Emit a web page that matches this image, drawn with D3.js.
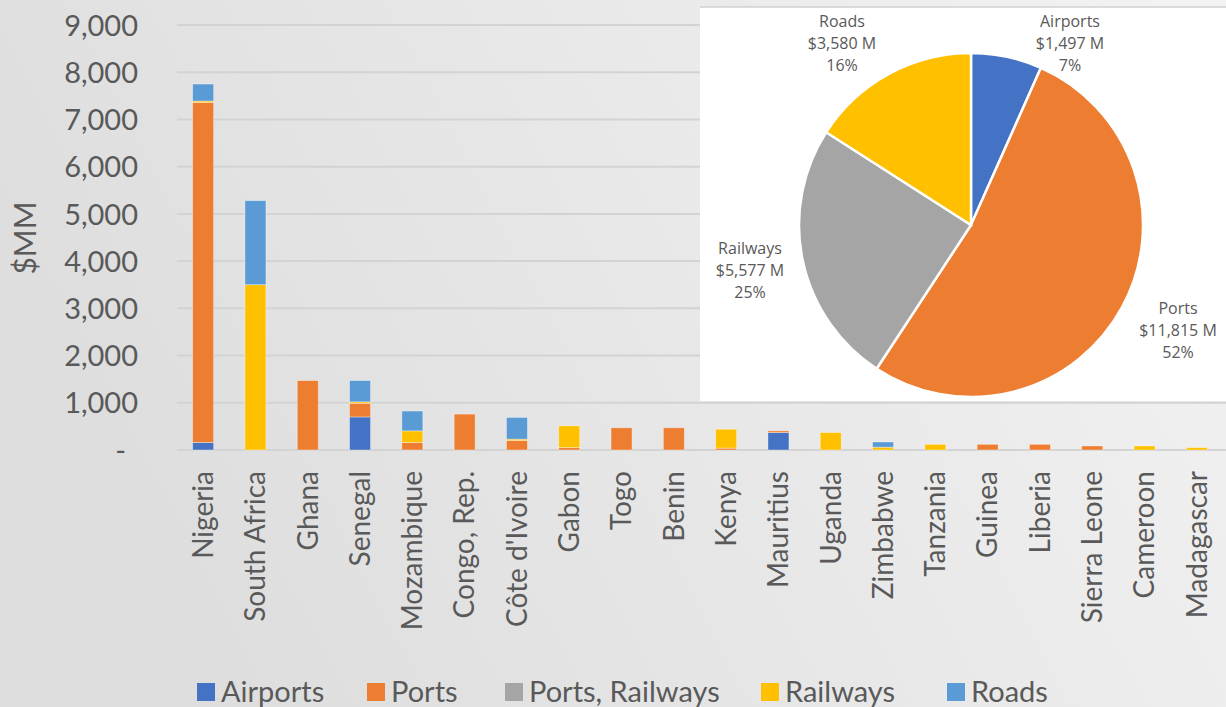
<!DOCTYPE html>
<html>
<head>
<meta charset="utf-8">
<script src="https://cdn.jsdelivr.net/npm/d3@7"></script>
<style>
  html, body { margin: 0; padding: 0; overflow: hidden; }
  svg { display: block; }
</style>
</head>
<body>
<svg id="chart" width="1226" height="707"></svg>
<script>
// ---------- DATA ----------
const countries = ["Nigeria","South Africa","Ghana","Senegal","Mozambique","Congo, Rep.","Côte d'Ivoire","Gabon","Togo","Benin","Kenya","Mauritius","Uganda","Zimbabwe","Tanzania","Guinea","Liberia","Sierra Leone","Cameroon","Madagascar"];
const seriesNames = ["Airports","Ports","Ports, Railways","Railways","Roads"];
const airports       = [160,   0,    0, 700,   0,   0,   0,   0,   0,   0,   0, 370,   0,   0,   0,   0,   0,  0,  0,  0];
const ports          = [7200,  0, 1470, 290, 160, 760, 200,  50, 470, 470,  40,  35,   0,   0,   0, 120, 120, 85,  0,  0];
const portsRailways  = [0,     0,    0,   0,   0,   0,   0,   0,   0,   0,   0,   0,   0,   0,   0,   0,   0,  0,  0,  0];
const railways       = [30, 3500,    0,  30, 245,   0,  30, 460,   0,   0, 400,   0, 370,  60, 120,   0,   0,  0, 85, 50];
const roads          = [360, 1780,   0, 450, 420,   0, 460,   0,   0,   0,   0,   0,   0, 110,   0,   0,   0,  0,  0,  0];
const yTicks = [0,1000,2000,3000,4000,5000,6000,7000,8000,9000];
const yTitle = "$MM";

const pieLabels = ["Airports","Ports","Railways","Roads"];
const pieValues = [1497, 11815, 5577, 3580];
const pieValueText = ["$1,497 M","$11,815 M","$5,577 M","$3,580 M"];
const piePercentText = ["7%","52%","25%","16%"];

// ---------- STYLE ----------
const seriesColors = ["#4472C4","#ED7D31","#A5A5A5","#FFC000","#5B9BD5"];
const pieColors = ["#4472C4","#ED7D31","#A5A5A5","#FFC000"];
const textColor = "#595959";
const mainFont = "Lato, 'Open Sans', sans-serif";

const svg = d3.select("#chart");
const W = 1226, H = 707;

// background gradient
const defs = svg.append("defs");
const grad = defs.append("linearGradient").attr("id","bg")
  .attr("x1","0%").attr("y1","30%").attr("x2","100%").attr("y2","0%");
grad.append("stop").attr("offset","0%").attr("stop-color","#dedede");
grad.append("stop").attr("offset","100%").attr("stop-color","#f3f3f3");
svg.append("rect").attr("width",W).attr("height",H).attr("fill","url(#bg)");

// ---------- BAR CHART ----------
const x = d3.scaleBand().domain(countries).range([177, 1223]).paddingInner(0.6).paddingOuter(0.3);
const y = d3.scaleLinear().domain([0, 9000]).range([450, 25]);

// gridlines
svg.append("g").selectAll("line").data(yTicks).join("line")
  .attr("x1", 177).attr("x2", W)
  .attr("y1", d => y(d)).attr("y2", d => y(d))
  .attr("stroke", "#d3d3d3").attr("stroke-width", 2);

// y axis tick labels
const yAxis = d3.axisLeft(y).tickValues(yTicks).tickSize(0).tickPadding(0)
  .tickFormat(d => d === 0 ? "-" : d3.format(",")(d));
const yg = svg.append("g").attr("transform","translate(138,0)").call(yAxis);
yg.select(".domain").remove();
yg.selectAll("text").attr("font-family", mainFont).attr("font-size", 29)
  .attr("fill", textColor).attr("dy","0.35em");
yg.selectAll(".tick").filter(d => d === 0).select("text").attr("dx", -12);

// y title
svg.append("text").attr("transform","translate(36,238) rotate(-90)")
  .attr("text-anchor","middle").attr("font-family", mainFont).attr("font-size", 30)
  .attr("fill", textColor).text(yTitle);

// stacked data
const rows = countries.map((c,i) => ({
  country: c,
  "Airports": airports[i],
  "Ports": ports[i],
  "Ports, Railways": portsRailways[i],
  "Railways": railways[i],
  "Roads": roads[i]
}));
const stacked = d3.stack().keys(seriesNames)(rows);

const barW = 21;
svg.append("g").selectAll("g").data(stacked).join("g")
  .attr("fill", (d,i) => seriesColors[i])
  .selectAll("rect").data(d => d.filter(p => p[1] - p[0] > 0)).join("rect")
  .attr("x", d => x(d.data.country) + x.bandwidth()/2 - barW/2)
  .attr("width", barW)
  .attr("y", d => y(d[1]))
  .attr("height", d => y(d[0]) - y(d[1]))
  .attr("stroke", "rgba(255,255,255,0.45)").attr("stroke-width", 0.8);

// x axis labels
const xAxis = d3.axisBottom(x).tickSize(0).tickPadding(0);
const xg = svg.append("g").attr("transform","translate(0,471)").call(xAxis);
xg.select(".domain").remove();
xg.selectAll("text")
  .attr("font-family", mainFont).attr("font-size", 28).attr("fill", textColor)
  .attr("text-anchor","end").attr("transform","rotate(-90)")
  .attr("x", 0).attr("y", 0).attr("dy","0.35em");

// legend
const legendX = [197, 367, 505, 761, 947];
const lg = svg.append("g");
seriesNames.forEach((s,i) => {
  lg.append("rect").attr("x", legendX[i]).attr("y", 683).attr("width", 18).attr("height", 18)
    .attr("fill", seriesColors[i]);
  lg.append("text").attr("x", legendX[i] + 24).attr("y", 692).attr("dy","0.35em")
    .attr("font-family", mainFont).attr("font-size", 29).attr("fill", textColor).text(s);
});

// ---------- PIE INSET ----------
svg.append("rect").attr("x", 700).attr("y", 7).attr("width", W - 700).attr("height", 394)
  .attr("fill", "#ffffff");
svg.append("line").attr("x1", 700).attr("x2", W).attr("y1", 7).attr("y2", 7)
  .attr("stroke", "#d0d0d0").attr("stroke-width", 1.5);

const pieCx = 971, pieCy = 225, pieR = 172;
const pie = d3.pie().sort(null).value(d => d);
const arcs = pie(pieValues);
const arc = d3.arc().innerRadius(0).outerRadius(pieR);
const pg = svg.append("g").attr("transform", `translate(${pieCx},${pieCy})`);
pg.selectAll("path").data(arcs).join("path")
  .attr("d", arc).attr("fill", (d,i) => pieColors[i])
  .attr("stroke", "#ffffff").attr("stroke-width", 2.5);

const pieLabelPos = [[1070, 21], [1178, 308], [750, 248], [842, 21]];
pieLabels.forEach((lab, i) => {
  const t = svg.append("text").attr("text-anchor","middle")
    .attr("font-family", "'Open Sans', 'Noto Sans', sans-serif").attr("font-size", 16)
    .attr("fill", textColor);
  [lab, pieValueText[i], piePercentText[i]].forEach((line, k) => {
    t.append("tspan").attr("x", pieLabelPos[i][0]).attr("y", pieLabelPos[i][1] + k*22)
      .attr("dy","0.35em").text(line);
  });
});
</script>
</body>
</html>
